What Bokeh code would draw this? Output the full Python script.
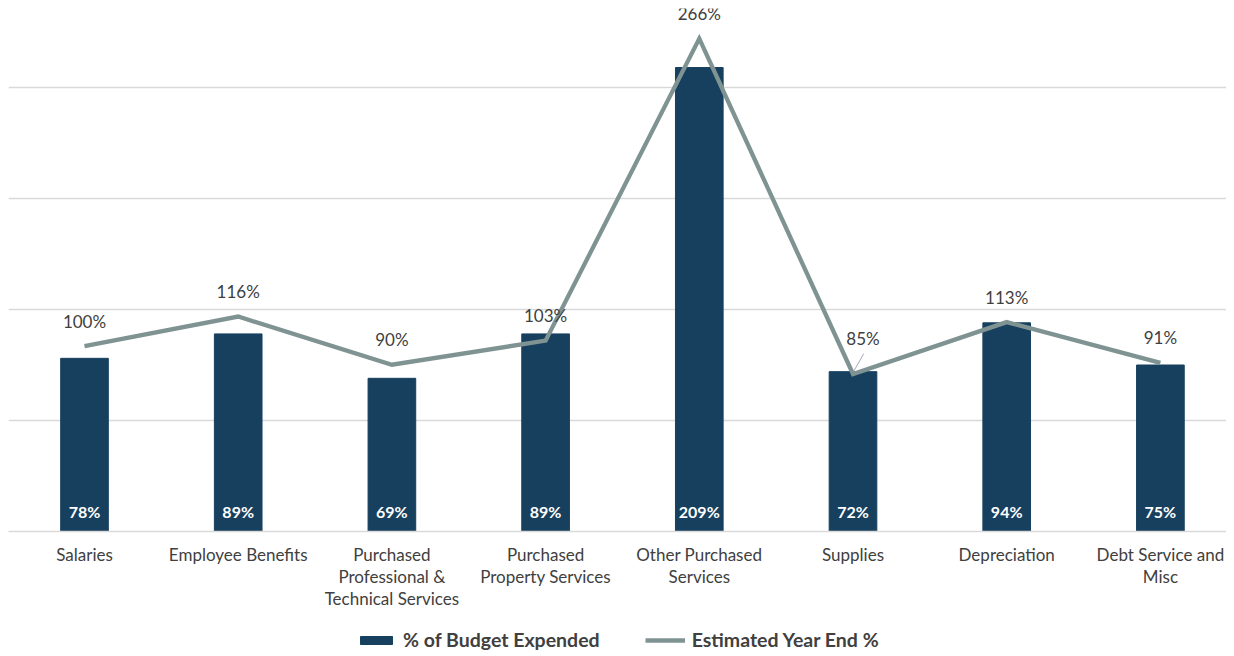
from bokeh.plotting import figure
from bokeh.models import (ColumnDataSource, Range1d, FixedTicker, LabelSet,
                          Legend, LegendItem)
from bokeh.layouts import column
from bokeh.core.properties import value
from bokeh.embed import file_html
from bokeh.resources import INLINE

# ---- data ----
categories = ["Salaries", "Employee Benefits",
              "Purchased Professional & Technical Services",
              "Purchased Property Services", "Other Purchased Services",
              "Supplies", "Depreciation", "Debt Service and Misc"]
tick_labels = ["Salaries", "Employee Benefits",
               "Purchased\nProfessional &\nTechnical Services",
               "Purchased\nProperty Services", "Other Purchased\nServices",
               "Supplies", "Depreciation", "Debt Service and\nMisc"]
budget_expended = [78, 89, 69, 89, 209, 72, 94, 75]
year_end_est = [100, 116, 90, 103, 266, 85, 113, 91]
grid_ticks = [0, 50, 100, 150, 200]
series_names = ["% of Budget Expended", "Estimated Year End %"]

# ---- styles ----
BAR = "#17405F"
LINE = "#7F9393"
TXT = "#404040"
FONT = "Lato"

xs = list(range(len(categories)))
label_dx = [0, 0, 0, 0, 0, 10, 0, 0]
label_dy = [25, 25, 25, 25, 25, 35, 25, 25]

src = ColumnDataSource(dict(
    x=xs, cat=categories, bud=budget_expended, est=year_end_est,
    bud_txt=[f"{v}%" for v in budget_expended],
    est_txt=[f"{v}%" for v in year_end_est],
    zero=[0] * len(xs), dx=label_dx, dy=label_dy,
))

spacing = 153.7
x_start = -76 / spacing
x_end = x_start + 1218 / spacing

p = figure(frame_width=1218, frame_height=523,
           x_range=Range1d(x_start, x_end), y_range=Range1d(0, 523 / 2.22),
           output_backend="svg", toolbar_location=None,
           y_axis_location=None,
           min_border_left=8, min_border_right=0, min_border_top=8,
           min_border_bottom=0)
p.extra_y_ranges = {"est": Range1d(0, 523 / 1.853)}
p.outline_line_color = None
p.background_fill_color = "white"
p.border_fill_color = "white"

p.xgrid.visible = False
p.ygrid.ticker = FixedTicker(ticks=grid_ticks)
p.ygrid.grid_line_color = "#D9D9D9"
p.ygrid.grid_line_width = 1.5

p.vbar(x="x", top="bud", width=0.31, source=src,
       fill_color=BAR, line_color=BAR)
p.line(x="x", y="est", source=src, y_range_name="est",
       line_width=4.3, line_color=LINE, line_join="miter")

# leader line for the shifted Supplies label
i_sup = 5
p.segment(x0=[xs[i_sup] + 0.005], y0=[year_end_est[i_sup] + 1.5],
          x1=[xs[i_sup] + 0.07], y1=[year_end_est[i_sup] + 11],
          y_range_name="est", line_color="#A8A8BE", line_width=1)

bar_labels = LabelSet(x="x", y="zero", text="bud_txt", source=src,
                      y_offset=20, text_align="center", text_baseline="middle",
                      text_color="white", text_font=value(FONT),
                      text_font_size="16px", text_font_style="bold")
p.add_layout(bar_labels)

est_labels = LabelSet(x="x", y="est", text="est_txt", source=src,
                      y_range_name="est", x_offset="dx", y_offset="dy",
                      text_align="center", text_baseline="middle",
                      text_color=TXT, text_font=value(FONT),
                      text_font_size="17px")
p.add_layout(est_labels)

ax = p.xaxis[0]
ax.ticker = FixedTicker(ticks=xs)
ax.major_label_overrides = {i: t for i, t in zip(xs, tick_labels)}
ax.major_tick_line_color = None
ax.minor_tick_line_color = None
ax.axis_line_color = "#D9D9D9"
ax.axis_line_width = 1.5
ax.major_label_text_font = FONT
ax.major_label_text_font_size = "17px"
ax.major_label_text_color = TXT
ax.major_label_text_line_height = 1.05
ax.major_label_standoff = 6

# ---- legend strip (separate small figure below the chart) ----
lg_h = 44
p2 = figure(width=1226, height=lg_h, x_range=Range1d(0, 1), y_range=Range1d(0, 1),
            output_backend="svg", toolbar_location=None,
            x_axis_location=None, y_axis_location=None,
            min_border_left=0, min_border_right=0, min_border_top=0,
            min_border_bottom=0)
p2.outline_line_color = None
p2.grid.visible = False
p2.border_fill_color = "white"
# off-screen proxies (below the visible range) only used for legend swatches
lbar = p2.vbar(x=[0.5], top=[-5], bottom=[-6], width=0.1,
               fill_color=BAR, line_color=BAR)
lline = p2.line(x=[0.4, 0.6], y=[-5, -5], line_width=4.3, line_color=LINE)

legend = Legend(items=[LegendItem(label=series_names[0], renderers=[lbar]),
                       LegendItem(label=series_names[1], renderers=[lline])],
                orientation="horizontal", location=(348, 4),
                glyph_width=40, glyph_height=10, label_standoff=7, spacing=45,
                label_text_font=FONT, label_text_font_size="19.5px",
                label_text_font_style="bold", label_text_color=TXT,
                border_line_color=None, background_fill_alpha=0,
                padding=2, margin=0)
p2.add_layout(legend)

layout = column(p, p2, spacing=0)
open("out.html", "w").write(file_html(layout, INLINE))
